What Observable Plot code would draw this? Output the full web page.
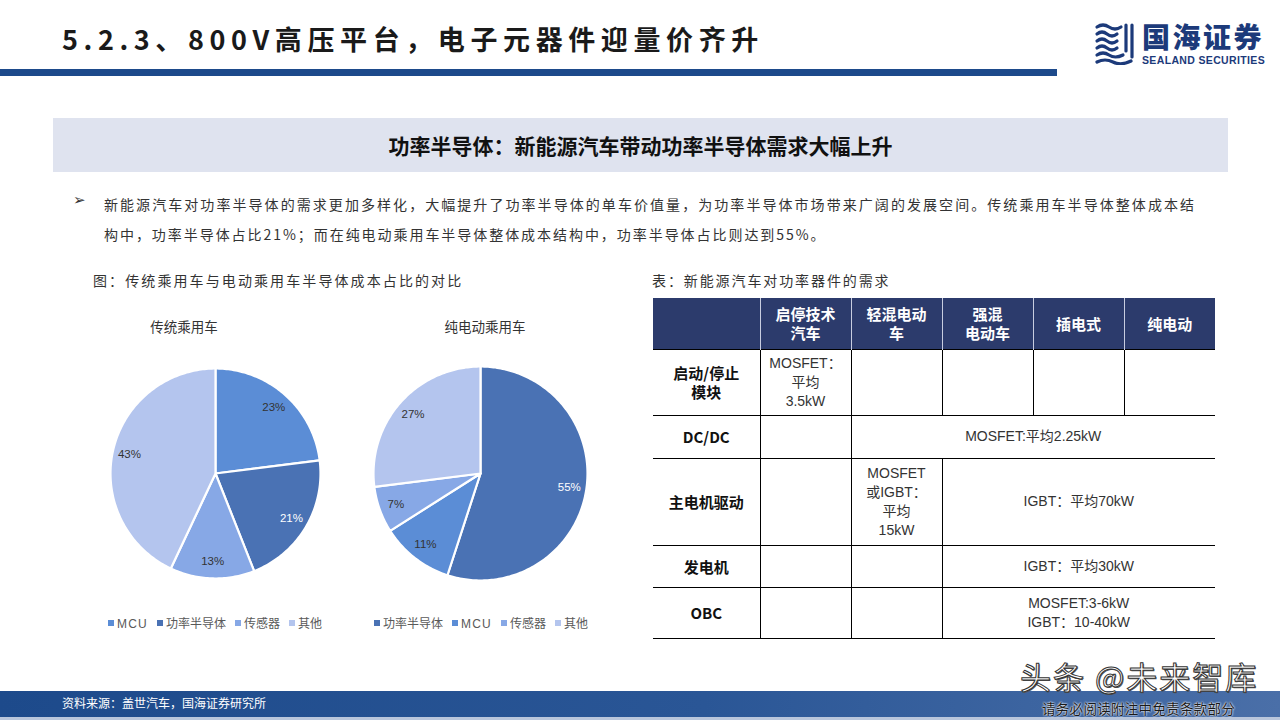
<!DOCTYPE html>
<html>
<head>
<meta charset="utf-8">
<script src="https://cdn.jsdelivr.net/npm/d3@7"></script>
<script src="https://cdn.jsdelivr.net/npm/@observablehq/plot@0.6"></script>
<style>
  html, body { margin: 0; padding: 0; background: #fff; }
  #slide { position: relative; width: 1280px; height: 720px; overflow: hidden; font-family: "Noto Sans CJK SC", "Noto Sans", sans-serif; color: #222; }
  .abs { position: absolute; }
  #title { left: 62px; top: 21px; font-size: 27px; font-weight: 700; letter-spacing: 5.6px; line-height: 36px; color: #1a1a1a; white-space: nowrap; }
  #bar { left: 0; top: 69px; width: 1057px; height: 7px; background: #1d4a8b; }
  #logoText { left: 1142px; top: 20px; font-size: 28px; font-weight: 900; color: #1c3a7a; letter-spacing: 2.5px; line-height: 32px; white-space: nowrap; }
  #logoSub { left: 1142px; top: 54px; font-family: "Liberation Sans", Arial, sans-serif; font-size: 10.5px; line-height: 12px; font-weight: 700; color: #1c3a7a; letter-spacing: 0.35px; white-space: nowrap; }
  #band { left: 53px; top: 118px; width: 1175px; height: 54px; background: #dfe3ef; text-align: center; line-height: 54px; font-size: 21px; font-weight: 700; color: #111; }
  #bullet { left: 73px; top: 189px; font-family: "DejaVu Sans", sans-serif; font-size: 15px; font-weight: 700; color: #333; line-height: 22px; }
  #para { left: 104px; top: 189px; width: 1090px; font-size: 14px; color: #333; line-height: 30px; }
  #para .l1 { display: block; text-align: justify; text-align-last: justify; }
  #para .l2 { display: block; letter-spacing: 1.95px; }
  .cap { font-size: 14px; color: #333; white-space: nowrap; line-height: 20px; }
  .ptitle { font-size: 13.5px; color: #333; white-space: nowrap; line-height: 20px; transform: translateX(-50%); }
  .legend { font-size: 12px; color: #595959; white-space: nowrap; line-height: 16px; display: flex; gap: 9px; }
  .legend span.sw { display: inline-block; width: 6px; height: 6px; margin-right: 3px; vertical-align: 2px; }
  .legend .lat { font-family: "Liberation Sans", Arial, sans-serif; letter-spacing: 1.2px; }
  #tbl { left: 653px; top: 298px; border-collapse: collapse; table-layout: fixed; width: 562px; }
  #tbl td, #tbl th { padding: 0; text-align: center; vertical-align: middle; font-size: 14px; line-height: 19px; }
  #tbl th { background: #2c3b6c; color: #fff; font-size: 15px; font-weight: 700; line-height: 19px; border-left: 1px solid #c8cde0; }
  #tbl th:first-child { border-left: none; }
  #tbl tbody td { border-top: 1.5px solid #000; border-left: 1px solid #000; color: #333; font-family: "Liberation Sans", "Noto Sans CJK SC", sans-serif; }
  #tbl tbody td.rh { border-left: none; font-weight: 700; color: #111; font-size: 15px; font-family: "Noto Sans CJK SC", sans-serif; }
  #tbl tbody tr:last-child td { border-bottom: 1.5px solid #000; }
  #foot { left: 0; top: 691px; width: 1280px; height: 26px; background: linear-gradient(to right, #1d4a8b 0%, #2a5696 55%, #4a6fa8 100%); }
  #footEdge { left: 0; top: 717px; width: 1280px; height: 3px; background: #b9c6dc; }
  #src { left: 62px; top: 694px; font-size: 12px; color: #fff; line-height: 18px; white-space: nowrap; }
  #wm { left: 1020px; top: 659px; font-size: 31px; color: #fff; line-height: 34px; white-space: nowrap; -webkit-text-stroke: 1px #333; text-shadow: 1px 1px 0 #555; letter-spacing: 2px; }
  #wm2 { left: 1042px; top: 700px; font-size: 13.5px; color: #1a1a1a; line-height: 16px; white-space: nowrap; letter-spacing: 0.3px; text-shadow: 0 0 2px #fff, 0 0 2px #fff; }
</style>
</head>
<body>
<div id="slide">
  <div id="title" class="abs">5.2.3、800V高压平台，电子元器件迎量价齐升</div>
  <div id="bar" class="abs"></div>
  <svg class="abs" style="left:1093px;top:21px" width="44" height="44" viewBox="0 0 44 44">
    <g fill="none" stroke="#1c3a7a" stroke-width="3.2" stroke-linecap="round">
      <path d="M4 6 Q10 2 16 6 T28 6"/>
      <path d="M4 13 Q9 9 14 13 T24 13"/>
      <path d="M4 20 Q9 16 14 20 T24 20"/>
      <path d="M4 27 Q9 23 14 27 T24 27"/>
      <path d="M4 34 Q10 30 16 34 T30 34"/>
      <path d="M4 41 Q12 37 20 41 T38 40"/>
      <path d="M33 4 L33 30"/>
      <path d="M39 4 L39 36"/>
    </g>
  </svg>
  <div id="logoText" class="abs">国海证券</div>
  <div id="logoSub" class="abs">SEALAND SECURITIES</div>

  <div id="band" class="abs">功率半导体：新能源汽车带动功率半导体需求大幅上升</div>

  <div id="bullet" class="abs">➢</div>
  <div id="para" class="abs"><span class="l1">新能源汽车对功率半导体的需求更加多样化，大幅提升了功率半导体的单车价值量，为功率半导体市场带来广阔的发展空间。传统乘用车半导体整体成本结</span><span class="l2">构中，功率半导体占比21%；而在纯电动乘用车半导体整体成本结构中，功率半导体占比则达到55%。</span></div>

  <div class="abs cap" style="left:93px;top:270px;letter-spacing:2.1px">图：传统乘用车与电动乘用车半导体成本占比的对比</div>
  <div class="abs cap" style="left:652px;top:270px;letter-spacing:1.9px">表：新能源汽车对功率器件的需求</div>

  <div id="pt1" class="abs ptitle" style="left:184px;top:316px"></div>
  <div id="pt2" class="abs ptitle" style="left:485px;top:316px"></div>
  <div id="pie1" class="abs" style="left:85px;top:343px"></div>
  <div id="pie2" class="abs" style="left:350px;top:343px"></div>
  <div id="lg1" class="abs legend" style="left:108px;top:615px"></div>
  <div id="lg2" class="abs legend" style="left:374px;top:615px"></div>

  <table id="tbl" class="abs"></table>

  <div id="foot" class="abs"></div>
  <div id="footEdge" class="abs"></div>
  <div id="src" class="abs">资料来源：盖世汽车，国海证券研究所</div>
  <div id="wm" class="abs">头条 @未来智库</div>
  <div id="wm2" class="abs">请务必阅读附注中免责条款部分</div>
</div>
<script>
// ---- Data ----
const pieTitle1 = "传统乘用车";
const pieCategories1 = ["MCU", "功率半导体", "传感器", "其他"];
const pieValues1 = [23, 21, 13, 43];

const pieTitle2 = "纯电动乘用车";
const pieCategories2 = ["功率半导体", "MCU", "传感器", "其他"];
const pieValues2 = [55, 11, 7, 27];

const colorDomain = ["MCU", "功率半导体", "传感器", "其他"];
const colorRange = ["#5b8dd6", "#4a72b4", "#87a8e6", "#b4c5ee"];

const tableHeader = ["", "启停技术<br>汽车", "轻混电动<br>车", "强混<br>电动车", "插电式", "纯电动"];
const tableRowLabels = ["启动/停止<br>模块", "DC/DC", "主电机驱动", "发电机", "OBC"];
// each row: list of [text, colspan]
const tableCells = [
  [["MOSFET：<br>平均<br>3.5kW", 1], ["", 1], ["", 1], ["", 1], ["", 1]],
  [["", 1], ["MOSFET:平均2.25kW", 4]],
  [["", 1], ["MOSFET<br>或IGBT：<br>平均<br>15kW", 1], ["IGBT：平均70kW", 3]],
  [["", 1], ["", 1], ["IGBT：平均30kW", 3]],
  [["", 1], ["", 1], ["MOSFET:3-6kW<br>IGBT：10-40kW", 3]]
];
const rowHeights = [51, 66, 43, 87, 42, 51];
const colWidths = [107, 91, 91, 91, 91, 91];

// ---- Pies ----
const colorOf = c => colorRange[colorDomain.indexOf(c)];

function drawPie(cats, vals, r, size) {
  const total = d3.sum(vals);
  let acc = 0;
  const slices = cats.map((c, i) => {
    const a0 = acc / total * 2 * Math.PI;
    acc += vals[i];
    const a1 = acc / total * 2 * Math.PI;
    return {c, v: vals[i], a0, a1, mid: (a0 + a1) / 2};
  });
  const marks = slices.map(s => {
    const pts = [{x: 0, y: 0}];
    const n = Math.max(2, Math.ceil((s.a1 - s.a0) / (Math.PI / 180)));
    for (let k = 0; k <= n; k++) {
      const a = s.a0 + (s.a1 - s.a0) * k / n;
      pts.push({x: r * Math.sin(a), y: r * Math.cos(a)});
    }
    return Plot.line(pts, {x: "x", y: "y", fill: colorOf(s.c), stroke: "white", strokeWidth: 2.2, curve: "linear-closed"});
  });
  const lr = 0.84 * r;
  const textOpts = {
    x: s => lr * Math.sin(s.mid),
    y: s => lr * Math.cos(s.mid),
    text: s => s.v + "%",
    fontSize: 11.5,
    fontFamily: "Liberation Sans, Arial, sans-serif"
  };
  marks.push(Plot.text(slices.filter(s => s.c !== "功率半导体"), {...textOpts, fill: "#333"}));
  marks.push(Plot.text(slices.filter(s => s.c === "功率半导体"), {...textOpts, fill: "#fff"}));
  return Plot.plot({
    width: size, height: size, margin: 0,
    x: {domain: [-size / 2, size / 2], axis: null},
    y: {domain: [-size / 2, size / 2], axis: null},
    style: {background: "transparent", overflow: "visible"},
    marks
  });
}

document.getElementById("pt1").textContent = pieTitle1;
document.getElementById("pt2").textContent = pieTitle2;
document.getElementById("pie1").appendChild(drawPie(pieCategories1, pieValues1, 105, 260));
document.getElementById("pie2").appendChild(drawPie(pieCategories2, pieValues2, 107, 260));

function legend(el, cats) {
  el.innerHTML = cats.map(c =>
    `<span><span class="sw" style="background:${colorOf(c)}"></span><span class="${/^[A-Z]/.test(c) ? 'lat' : ''}">${c}</span></span>`
  ).join("");
}
legend(document.getElementById("lg1"), pieCategories1);
legend(document.getElementById("lg2"), pieCategories2);

// ---- Table ----
const tbl = document.getElementById("tbl");
let html = "<colgroup>" + colWidths.map(w => `<col style="width:${w}px">`).join("") + "</colgroup>";
html += `<thead><tr style="height:${rowHeights[0]}px">` + tableHeader.map(h => `<th>${h}</th>`).join("") + "</tr></thead><tbody>";
tableRowLabels.forEach((lab, i) => {
  html += `<tr style="height:${rowHeights[i + 1]}px"><td class="rh">${lab}</td>` +
    tableCells[i].map(([t, span]) => `<td colspan="${span}">${t}</td>`).join("") + "</tr>";
});
html += "</tbody>";
tbl.innerHTML = html;
</script>
</body>
</html>
